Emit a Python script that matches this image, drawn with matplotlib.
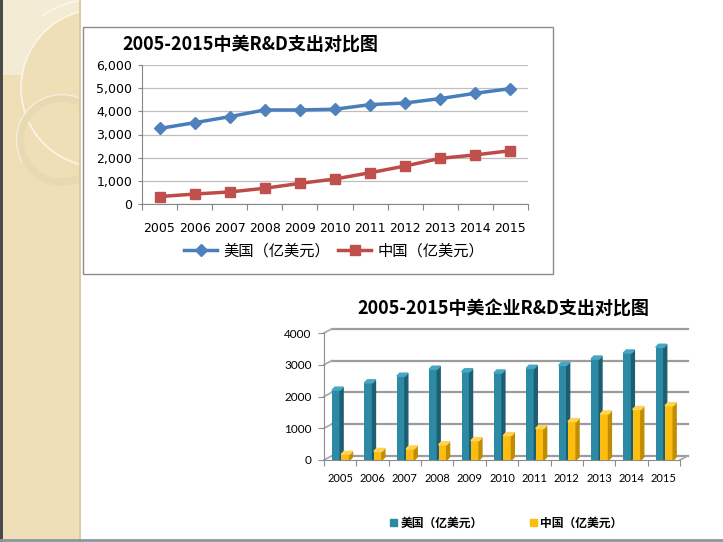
import numpy as np
import matplotlib
matplotlib.use('Agg')
import matplotlib.pyplot as plt
from matplotlib.patches import Rectangle, Circle, Arc, Patch, Polygon
from matplotlib.ticker import FuncFormatter

W, H = 723, 542

years = [str(y) for y in range(2005, 2016)]
# chart 1: national R&D spending (亿美元)
us_total = [3260, 3510, 3770, 4060, 4060, 4090, 4290, 4360, 4550, 4780, 4980]
cn_total = [320, 430, 520, 680, 890, 1080, 1350, 1640, 1970, 2120, 2300]
# chart 2: business R&D spending (亿美元)
us_biz = [2200, 2430, 2640, 2860, 2780, 2740, 2890, 2980, 3180, 3370, 3550]
cn_biz = [180, 270, 350, 480, 610, 770, 990, 1210, 1450, 1590, 1710]

title1 = '2005-2015中美R&D支出对比图'
title2 = '2005-2015中美企业R&D支出对比图'
lab_us = '美国（亿美元）'
lab_cn = '中国（亿美元）'

CJK = ['Noto Sans CJK SC', 'DejaVu Sans']
plt.rcParams['font.family'] = CJK

fig = plt.figure(figsize=(W / 100, H / 100), dpi=100)
fig.patch.set_facecolor('white')


def px_axes(l, t, r, b):
    return fig.add_axes([l / W, 1 - b / H, (r - l) / W, (b - t) / H])


# slide background
bg = fig.add_axes([0, 0, 1, 1])
bg.set_xlim(0, W)
bg.set_ylim(H, 0)
bg.axis('off')
strip = Rectangle((0, 0), 80, H, facecolor='#EEDFB7', edgecolor='none')
bg.add_patch(strip)
# lighter patch top-left, bounded by the big arc
cx, cy, r = 100, 88, 79
ys = np.linspace(cy - r + 1, 75, 40)
xs = cx - np.sqrt(r ** 2 - (ys - cy) ** 2)
light = Polygon(np.column_stack([np.r_[0, 80, xs, 0], np.r_[0, 0, ys, 75]]), closed=True,
                facecolor='#F4EBD5', edgecolor='none')
bg.add_patch(light)
light.set_clip_path(strip)
deco = [
    Arc((cx, cy), 2 * r, 2 * r, theta1=105, theta2=256, color='#FBF6EA', lw=1.2),
    Arc((97, 98), 198, 198, theta1=236, theta2=275, color='#FBF6EA', lw=1.2),
    Circle((62, 140), 42, facecolor='none', edgecolor='#E7D9B2', lw=5.5),
    Arc((62, 140), 91, 91, theta1=150, theta2=300, color='#F6EEDA', lw=1),
]
for c in deco:
    bg.add_patch(c)
    c.set_clip_path(strip)
bg.add_patch(Rectangle((0, 0), 2.5, H, facecolor='#4a4a4a', edgecolor='none'))
bg.add_patch(Rectangle((78.5, 0), 2, H, facecolor='#DCCB9C', edgecolor='none'))
bg.plot([0, W], [540, 540], color='#8a96a0', lw=2)

# top chart frame
bg.add_patch(Rectangle((83, 27), 470, 247, facecolor='white', edgecolor='#8c8c8c', lw=1))

# ---------- chart 1: line chart ----------
ax1 = px_axes(142, 65, 528, 204)
x = np.arange(len(years))
ax1.plot(x, us_total, color='#4A7EBB', lw=2.5, marker='D', ms=6,
         mfc='#4F81BD', mec='#4F81BD', label=lab_us)
ax1.plot(x, cn_total, color='#BE4B48', lw=2.5, marker='s', ms=7.5,
         mfc='#C0504D', mec='#C0504D', label=lab_cn)
ax1.set_xlim(-0.5, len(years) - 0.5)
ax1.set_ylim(0, 6000)
ax1.set_yticks(range(0, 6001, 1000))
ax1.yaxis.set_major_formatter(FuncFormatter(lambda v, p: f'{int(v):,}'))
ax1.grid(axis='y', color='#BFBFBF', lw=0.9)
ax1.set_axisbelow(True)
for s in ['top', 'right']:
    ax1.spines[s].set_visible(False)
for s in ['left', 'bottom']:
    ax1.spines[s].set_color('#868686')
ax1.set_xticks(np.arange(-0.5, len(years), 1.0))
ax1.set_xticklabels([])
ax1.set_xticks(x, minor=True)
ax1.set_xticklabels(years, minor=True, family='DejaVu Sans', fontsize=9)
ax1.tick_params(axis='x', which='major', length=4, color='#868686')
ax1.tick_params(axis='x', which='minor', length=0, pad=13)
ax1.tick_params(axis='y', length=3, color='#868686', labelsize=9, pad=4)
for t in ax1.get_yticklabels():
    t.set_family('DejaVu Sans')
ax1.legend(loc='center', bbox_to_anchor=(334 / W, 1 - 251 / H), bbox_transform=fig.transFigure,
           ncol=2, frameon=False, handlelength=2.2, columnspacing=0.5, handletextpad=0.4,
           prop={'family': CJK, 'size': 11})
fig.text(122 / W, 1 - 44 / H, title1, fontsize=13, weight='bold', va='center', ha='left')

# ---------- chart 2: pseudo 3D column chart ----------
ax2 = px_axes(324, 333, 680, 460)
ax2.set_xlim(-0.5, len(years) - 0.5)
ax2.set_ylim(0, 4000)
wdx, wdy = 0.24, 130   # wall depth
for gy in range(0, 4001, 1000):
    ax2.plot([-0.5 + wdx, len(years) - 0.5 + wdx], [gy + wdy, gy + wdy],
             color='#9C9C9C', lw=1.6, clip_on=False, zorder=1)
    ax2.plot([-0.5, -0.5 + wdx], [gy, gy + wdy], color='#A6A6A6', lw=1.2, clip_on=False, zorder=1)
ax2.plot([len(years) - 0.5, len(years) - 0.5 + wdx], [0, wdy], color='#A6A6A6', lw=1.2,
         clip_on=False, zorder=1)

bw, bdx, bdy = 0.25, 0.09, 95


def bars3d(xs, vals, front, side, top):
    rects = ax2.bar(xs, vals, width=bw, color=front, align='edge', zorder=3)
    for rc in rects:
        x0, w, v = rc.get_x(), rc.get_width(), rc.get_height()
        ax2.fill([x0 + w, x0 + w + bdx, x0 + w + bdx, x0 + w],
                 [0, bdy, v + bdy, v], color=side, zorder=3, clip_on=False)
        ax2.fill([x0, x0 + bdx, x0 + w + bdx, x0 + w],
                 [v, v + bdy, v + bdy, v], color=top, zorder=3, clip_on=False)
    return rects


bars3d(x - 0.25, us_biz, '#2C8AA5', '#1D5E72', '#47A7C3')
bars3d(x + 0.04, cn_biz, '#FDBD10', '#C08C00', '#FFD452')

for s in ['top', 'right']:
    ax2.spines[s].set_visible(False)
for s in ['left', 'bottom']:
    ax2.spines[s].set_color('#8c8c8c')
ax2.set_yticks(range(0, 4001, 1000))
ax2.tick_params(axis='y', length=4, color='#8c8c8c', labelsize=8.5, pad=5)
ax2.set_xticks(np.arange(-0.5, len(years), 1.0))
ax2.set_xticklabels([])
ax2.set_xticks(x, minor=True)
ax2.set_xticklabels(years, minor=True, fontsize=8)
ax2.tick_params(axis='x', which='major', length=4, color='#8c8c8c')
ax2.tick_params(axis='x', which='minor', length=0, pad=9)
for t in ax2.get_yticklabels() + ax2.get_xticklabels(minor=True):
    t.set_family('Lato')

handles = [Patch(color='#2C8AA5', label=lab_us), Patch(color='#FDBD10', label=lab_cn)]
fig.legend(handles=handles, loc='center', bbox_to_anchor=(506 / W, 1 - 523 / H),
           ncol=2, frameon=False, handlelength=0.6, handleheight=0.6, handletextpad=0.3,
           columnspacing=4.0, prop={'family': CJK, 'size': 8.5, 'weight': 'bold'})
fig.text(503 / W, 1 - 309 / H, title2, fontsize=13, weight='bold', va='center', ha='center')

fig.savefig('out.png', dpi=100)
